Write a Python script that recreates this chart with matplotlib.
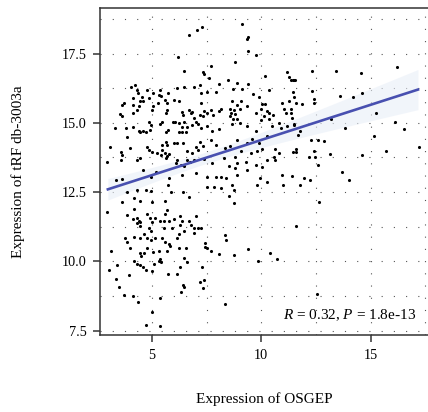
import matplotlib
matplotlib.use("Agg")
import matplotlib.pyplot as plt
import numpy as np
from matplotlib.ticker import FixedLocator

plt.rcParams["font.family"] = ["Liberation Serif", "DejaVu Serif"]
plt.rcParams["mathtext.fontset"] = "custom"
plt.rcParams["mathtext.rm"] = "Liberation Serif"
plt.rcParams["mathtext.it"] = "Liberation Serif:italic"

# expression values (OSGEP on x, tRF db-3003a on y)
osgep = [
    # 3 - 7, upper half
    6.49, 4.22, 4.07, 4.30, 4.36, 4.76, 5.06, 5.37, 5.32, 5.44,
    5.75, 6.13, 6.49, 6.92, 4.12, 4.15, 4.53, 4.48, 4.60, 4.41,
    4.30, 4.86, 3.64, 3.72, 3.54, 3.64, 4.15, 5.02, 5.06, 5.29,
    5.59, 5.67, 5.70, 5.63, 6.01, 6.23, 6.39, 6.43, 6.69, 6.77,
    6.84, 5.98, 6.08, 6.23, 6.46, 6.39, 5.47, 5.37, 4.86, 4.94,
    4.15, 4.71, 4.60, 4.48, 4.41, 4.91, 3.32, 3.83, 5.73, 5.63,
    6.23, 6.39, 6.54, 6.59, 6.84, 7.00, 6.92, 3.08, 3.87, 4.02,
    4.76, 4.86, 5.02, 5.24, 5.47, 5.58, 5.67, 5.78, 5.40, 5.63,
    5.70, 5.47, 6.01, 6.16, 6.43, 6.62, 6.84, 7.00, 3.60, 3.64,
    3.57, 2.96, 4.33, 4.45, 5.63, 6.16, 6.11, 6.59, 4.59, 5.21,
    6.31, 6.49, 6.74, 6.92, 3.38, 3.64, 4.94, 5.78, 6.39, 7.00,
    # 7 - 11.6, upper half
    7.68, 7.34, 7.37, 7.60, 8.78, 10.19, 11.18, 11.26, 11.49, 8.06,
    7.19, 8.47, 8.90, 9.39, 9.13, 8.72, 7.95, 7.50, 7.25, 9.63,
    10.35, 11.49, 7.25, 8.14, 8.06, 7.68, 7.40, 7.22, 7.34, 7.53,
    7.80, 8.67, 8.56, 8.62, 8.75, 8.90, 9.08, 9.36, 9.02, 8.78,
    8.59, 8.72, 8.87, 9.89, 10.04, 10.19, 10.00, 10.24, 10.35, 10.54,
    9.78, 9.97, 10.12, 10.35, 10.96, 11.06, 11.15, 11.41, 11.26, 11.57,
    7.10, 7.25, 7.53, 7.75, 8.06, 8.67, 9.05, 9.36, 9.74, 9.58,
    10.27, 10.50, 10.80, 10.91, 11.18, 11.49, 7.19, 7.34, 7.10, 7.68,
    7.91, 8.36, 8.56, 8.90, 9.08, 9.33, 9.89, 9.81, 10.04, 10.65,
    10.80, 10.57, 10.62, 11.46, 11.57, 7.37, 7.75, 8.29, 8.52, 8.82,
    9.28, 9.51, 9.78, 10.04, 10.27, 7.53, 7.95, 8.14, 8.41, 8.87,
    9.36, 9.93, 10.27, 10.96, 11.41, 8.78, 8.90,
    # 3 - 7, lower half
    3.87, 4.30, 4.75, 4.94, 5.74, 5.88, 6.43, 6.69, 3.64, 4.17,
    4.45, 5.01, 5.62, 2.95, 4.20, 4.78, 5.70, 3.87, 4.14, 4.30,
    4.40, 4.33, 4.48, 4.91, 5.01, 5.16, 5.36, 5.58, 5.55, 5.77,
    6.03, 6.28, 6.38, 6.69, 6.80, 6.92, 7.00, 4.45, 4.86, 4.94,
    5.55, 5.93, 6.28, 6.49, 6.23, 6.92, 3.79, 3.87, 3.99, 4.20,
    4.45, 4.63, 4.78, 4.94, 5.16, 5.47, 5.62, 5.77, 5.85, 6.16,
    6.54, 6.23, 3.14, 4.48, 4.51, 4.66, 4.78, 5.06, 5.32, 5.67,
    5.39, 4.17, 4.33, 4.45, 4.60, 4.75, 5.12, 5.32, 5.42, 5.73,
    6.28, 6.49, 6.61, 6.16, 3.03, 3.41, 3.34, 3.94, 5.01, 3.49,
    3.72, 4.14, 4.36, 5.36, 6.31, 6.49, 6.43, 5.01, 4.75, 5.39,
    # 7 - 11.6, lower half
    7.50, 7.86, 8.14, 8.67, 8.75, 8.52, 8.75, 9.81, 11.00, 7.10,
    7.25, 11.60, 8.36, 8.41, 7.45, 7.45, 7.50, 7.71, 8.06, 8.75,
    9.39, 9.84, 10.39, 10.73, 7.30, 7.19, 7.40, 7.34, 8.36,
    # top strip and right side
    9.11, 7.31, 7.08, 6.72, 9.41, 9.34, 6.21, 9.39, 9.75,
    12.31, 13.42, 14.55, 16.20, 11.35, 11.47, 11.55, 11.44, 12.31, 12.39,
    12.42, 11.86, 13.58, 14.19, 14.60, 11.35, 11.35, 15.25, 11.50, 11.75,
    11.66, 13.18, 13.84, 16.12, 16.53, 12.27, 12.57, 12.88, 15.16, 11.60,
    12.16, 12.39, 12.46, 13.15, 14.60, 15.71, 17.19, 12.57, 13.69,
    11.75, 11.96, 12.24, 13.99, 12.62, 12.54,
]
trf = [
    16.87, 16.37, 16.31, 16.19, 16.07, 16.19, 16.07, 16.19, 16.01, 15.97,
    16.09, 16.25, 16.31, 16.31, 15.89, 15.65, 15.95, 15.77, 15.80, 15.59,
    15.47, 15.89, 15.65, 15.71, 15.32, 15.25, 15.35, 15.47, 15.59, 15.71,
    15.83, 15.71, 15.47, 15.35, 15.83, 15.80, 15.40, 15.28, 15.47, 15.35,
    15.40, 15.04, 15.04, 14.98, 15.04, 14.86, 15.04, 14.96, 15.04, 14.92,
    14.86, 14.68, 14.71, 14.68, 14.71, 14.74, 14.80, 14.80, 14.74, 14.68,
    14.68, 14.68, 14.68, 14.86, 14.92, 15.04, 15.16, 14.14, 14.48, 14.08,
    14.12, 14.02, 13.96, 13.92, 14.02, 13.92, 13.80, 13.88, 13.84, 14.32,
    14.20, 14.20, 14.26, 14.26, 14.29, 14.00, 13.92, 14.12, 13.96, 13.84,
    13.66, 13.60, 13.66, 13.72, 13.72, 13.66, 13.54, 13.66, 13.30, 13.24,
    13.48, 13.44, 13.60, 13.66, 12.94, 12.96, 13.06, 13.00, 13.12, 13.18,
    17.06, 16.85, 16.77, 16.61, 17.21, 16.70, 16.85, 16.67, 16.55, 16.41,
    16.37, 16.53, 16.45, 16.41, 16.21, 16.21, 16.13, 16.13, 16.07, 16.05,
    16.17, 15.95, 15.71, 15.49, 15.41, 15.47, 15.41, 15.29, 15.23, 15.35,
    15.29, 15.77, 15.49, 15.35, 15.47, 15.65, 15.80, 15.59, 15.49, 15.32,
    15.23, 15.13, 15.13, 15.92, 15.68, 15.68, 15.49, 15.41, 15.35, 15.29,
    15.35, 15.11, 15.23, 15.13, 15.71, 15.49, 15.35, 15.17, 15.77, 15.71,
    14.96, 14.81, 14.87, 14.72, 14.77, 14.96, 14.99, 14.87, 14.69, 14.41,
    14.53, 14.87, 14.99, 14.81, 14.87, 14.93, 14.32, 14.17, 14.02, 14.38,
    14.20, 14.08, 14.17, 14.38, 14.00, 14.29, 14.26, 14.00, 14.05, 14.05,
    13.90, 13.78, 13.66, 13.96, 14.05, 13.69, 13.54, 13.72, 13.45, 13.78,
    13.60, 13.90, 13.48, 13.42, 13.66, 13.06, 13.04, 13.06, 13.00, 13.12,
    13.30, 13.00, 12.88, 13.12, 13.08, 13.36, 13.54,
    12.52, 12.58, 12.59, 12.54, 12.74, 12.52, 12.52, 12.34, 12.16, 12.28,
    12.18, 12.16, 12.18, 11.80, 11.89, 11.70, 11.86, 11.68, 11.53, 11.56,
    11.46, 11.38, 11.41, 11.56, 11.41, 11.56, 11.46, 11.70, 11.46, 11.44,
    11.53, 11.62, 11.46, 11.44, 11.32, 11.22, 11.62, 11.26, 11.20, 11.10,
    11.22, 11.22, 11.32, 11.10, 10.98, 11.02, 10.83, 10.69, 10.50, 10.89,
    10.86, 10.98, 10.83, 10.77, 10.83, 10.83, 10.69, 10.62, 10.57, 10.83,
    10.50, 10.50, 10.38, 10.29, 10.21, 10.29, 10.50, 10.35, 10.38, 10.38,
    10.09, 10.02, 9.90, 9.87, 9.81, 9.69, 9.90, 10.02, 9.97, 9.53,
    9.78, 10.11, 9.99, 9.53, 9.69, 9.87, 9.37, 9.51, 9.66, 9.09,
    8.79, 8.76, 8.52, 8.69, 8.91, 9.09, 9.13, 8.19, 7.71, 7.67,
    12.70, 12.70, 12.64, 12.74, 12.58, 12.37, 12.10, 12.74, 12.74, 11.20,
    11.20, 11.29, 10.95, 10.77, 10.65, 10.53, 10.50, 10.38, 10.26, 10.23,
    10.45, 10.02, 10.29, 10.09, 9.81, 9.27, 9.33, 9.05, 8.45,
    18.57, 18.45, 18.36, 18.18, 18.08, 18.02, 17.37, 17.60, 17.45,
    16.88, 16.88, 16.79, 17.03, 16.55, 16.55, 16.55, 16.11, 16.15, 15.86,
    15.71, 15.68, 15.98, 15.95, 16.07, 15.50, 15.35, 15.37, 14.95, 14.71,
    14.57, 15.14, 14.81, 15.02, 14.78, 14.38, 14.38, 14.35, 14.54, 13.96,
    13.78, 13.99, 13.78, 13.87, 13.84, 13.99, 14.11, 13.48, 13.24,
    12.76, 13.00, 12.92, 12.94, 12.16, 8.82,
]
# regression line as drawn in the figure (ends)
fit_x = [2.99, 17.16]
fit_y = [12.60, 16.20]
stat_text = r"$R$ = 0.32, $P$ = 1.8e-13"

x = np.array(osgep)
y = np.array(trf)

# 95% confidence band around the drawn line
slope = (fit_y[1] - fit_y[0]) / (fit_x[1] - fit_x[0])
intercept = fit_y[0] - slope * fit_x[0]
n = len(x)
resid = y - (slope * x + intercept)
s = np.sqrt(np.sum(resid ** 2) / (n - 2))
xs = np.linspace(fit_x[0], fit_x[1], 100)
fit = slope * xs + intercept
se = s * np.sqrt(1 / n + (xs - x.mean()) ** 2 / np.sum((x - x.mean()) ** 2))

fig = plt.figure(figsize=(4.28, 4.12), dpi=100)
ax = fig.add_axes([0.2336, 0.187, 0.767, 0.794])

ax.set_xlim(2.63, 17.63)
ax.set_ylim(7.345, 19.15)

ax.xaxis.set_major_locator(FixedLocator([5, 10, 15]))
ax.xaxis.set_minor_locator(FixedLocator([7.5, 12.5, 17.5]))
ax.yaxis.set_major_locator(FixedLocator([7.5, 10.0, 12.5, 15.0, 17.5]))
ax.yaxis.set_minor_locator(FixedLocator([8.75, 11.25, 13.75, 16.25, 18.75]))
ax.set_yticklabels(["7.5", "10.0", "12.5", "15.0", "17.5"])

ax.grid(True, which="both", color="#555555", linewidth=0.8,
        linestyle=(0, (1, 10)))
ax.set_axisbelow(True)

ax.fill_between(xs, fit - 1.97 * se, fit + 1.97 * se,
                color="#e9eff8", alpha=0.6, linewidth=0, zorder=2)
ax.scatter(x, y, s=5, color="black", linewidths=0, zorder=3)
ax.plot(xs, fit, color="#4850b0", linewidth=1.9, zorder=4)

ax.text(17.08, 7.92, stat_text, ha="right", va="baseline",
        fontsize=11, zorder=5)

for side in ["left", "bottom", "top"]:
    ax.spines[side].set_color("#333333")
    ax.spines[side].set_linewidth(1.1)
ax.spines["right"].set_visible(False)

ax.tick_params(which="major", direction="out", length=4.8, width=1.1,
               color="#333333", pad=5, labelsize=10.3,
               top=False, right=False)
ax.tick_params(which="minor", length=0)

ax.set_xlabel("Expression of OSGEP", fontsize=11)
ax.set_ylabel("Expression of tRF db-3003a", fontsize=11)
ax.xaxis.set_label_coords(0.5, -0.175)
ax.yaxis.set_label_coords(-0.228, 0.5)

plt.savefig("out.png", dpi=100)
